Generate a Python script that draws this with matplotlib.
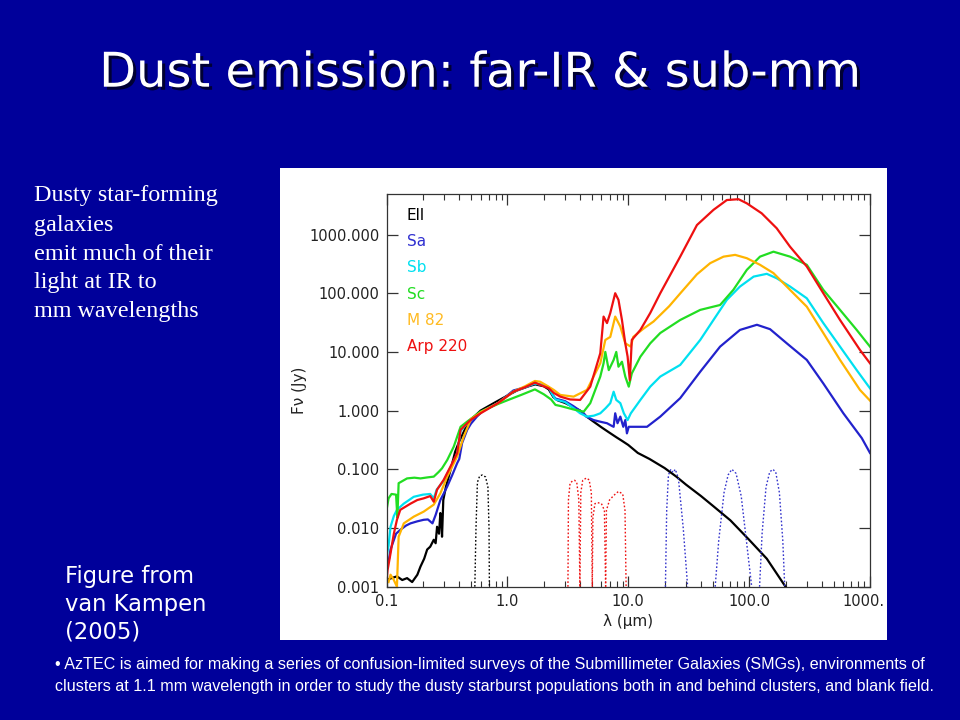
import matplotlib
matplotlib.use("Agg")
import matplotlib.pyplot as plt
import matplotlib.patheffects as pe
from matplotlib.patches import Rectangle
from matplotlib.transforms import ScaledTranslation
from matplotlib.ticker import FixedLocator, FixedFormatter, LogLocator, NullFormatter, NullLocator

# ---------------- data ----------------
ell_lam = [0.1, 0.11, 0.122, 0.135, 0.148, 0.163, 0.18, 0.191, 0.205, 0.217, 0.23, 0.246, 0.255,
           0.262, 0.272, 0.279, 0.285, 0.288, 0.295, 0.31, 0.34, 0.37, 0.40, 0.45, 0.5, 0.6, 0.8,
           1.0, 1.2, 1.5, 1.7, 2.0, 2.2, 2.4, 2.6, 3.0, 3.5, 4.0, 4.5, 5.0, 6.0, 7.0, 8.0, 9.0,
           10.0, 12.0, 15.0, 20.0, 25.0, 30.0, 40.0, 50.0, 70.0, 100.0, 140.0, 200.0]
ell_f = [0.0013, 0.0014, 0.0015, 0.0013, 0.0014, 0.0012, 0.0016, 0.0022, 0.003, 0.0043, 0.0048,
         0.0063, 0.0055, 0.0105, 0.008, 0.018, 0.012, 0.0071, 0.03, 0.05, 0.1, 0.2, 0.3, 0.5, 0.7,
         1.0, 1.4, 1.8, 2.2, 2.6, 2.8, 2.6, 2.3, 1.7, 1.5, 1.35, 1.15, 1.0, 0.8, 0.68, 0.52, 0.42,
         0.35, 0.3, 0.26, 0.19, 0.15, 0.105, 0.075, 0.055, 0.035, 0.024, 0.0135, 0.0063, 0.003, 0.001]

sa_lam = [0.1, 0.105, 0.108, 0.12, 0.13, 0.145, 0.158, 0.18, 0.203, 0.22, 0.24, 0.255, 0.279, 0.3,
          0.318, 0.35, 0.384, 0.4, 0.422, 0.44, 0.465, 0.5, 0.56, 0.62, 0.84, 1.12, 1.4, 1.69, 2.0,
          2.2, 2.35, 2.5, 3.0, 3.5, 4.28, 4.5, 5.17, 6.0, 6.67, 7.3, 7.57, 7.8, 8.15, 8.6, 9.1,
          9.45, 9.75, 10.1, 11.1, 14.3, 18.4, 26.9, 39.4, 57.5, 84.0, 116.0, 149.0, 205.0, 300.0,
          411.0, 602.0, 855.0, 1000.0]
sa_f = [0.0022, 0.003, 0.0043, 0.008, 0.0093, 0.011, 0.012, 0.013, 0.0138, 0.014, 0.012, 0.0167,
        0.03, 0.04, 0.051, 0.08, 0.127, 0.15, 0.28, 0.35, 0.47, 0.6, 0.79, 0.97, 1.35, 2.2, 2.5,
        2.9, 2.7, 2.5, 1.9, 1.6, 1.45, 1.2, 0.9, 0.79, 0.69, 0.64, 0.61, 0.55, 0.53, 0.9, 0.61,
        0.79, 0.53, 0.69, 0.41, 0.53, 0.53, 0.53, 0.79, 1.63, 4.6, 12.3, 23.7, 29.0, 24.4, 14.0,
        7.3, 2.9, 0.9, 0.34, 0.19]

sb_lam = [0.1, 0.104, 0.108, 0.115, 0.122, 0.139, 0.168, 0.2, 0.23, 0.246, 0.26, 0.3, 0.34, 0.384,
          0.41, 0.5, 0.62, 0.84, 1.12, 1.4, 1.69, 2.0, 2.2, 2.35, 2.5, 3.0, 3.53, 4.0, 4.55, 5.2,
          5.87, 6.5, 7.1, 7.57, 7.96, 8.6, 9.2, 9.88, 10.5, 12.6, 15.2, 18.4, 26.9, 39.4, 50.7,
          65.4, 84.0, 109.0, 140.0, 169.0, 218.0, 300.0, 411.0, 565.0, 776.0, 1000.0]
sb_f = [0.0032, 0.005, 0.0105, 0.016, 0.0204, 0.026, 0.034, 0.037, 0.038, 0.032, 0.045, 0.065,
        0.11, 0.18, 0.45, 0.72, 0.97, 1.35, 2.1, 2.5, 2.9, 2.7, 2.5, 1.9, 1.55, 1.4, 1.1, 0.9,
        0.79, 0.82, 0.9, 1.1, 1.34, 2.1, 1.52, 1.34, 0.9, 0.69, 0.9, 1.52, 2.56, 3.8, 6.0, 16.0,
        35.0, 77.0, 130.0, 192.0, 214.0, 180.0, 130.0, 82.0, 31.0, 12.3, 4.9, 2.4]

sc_lam = [0.1, 0.104, 0.11, 0.12, 0.123, 0.126, 0.148, 0.17, 0.191, 0.22, 0.246, 0.27, 0.288,
          0.318, 0.36, 0.41, 0.465, 0.6, 0.84, 1.0, 1.3, 1.69, 2.0, 2.3, 2.5, 2.74, 3.5, 4.28,
          4.85, 5.87, 6.25, 6.46, 6.9, 7.57, 7.96, 8.3, 8.87, 9.45, 10.1, 10.7, 12.6, 15.2, 18.4,
          26.9, 39.4, 57.5, 74.0, 95.7, 123.0, 159.0, 218.0, 300.0, 411.0, 565.0, 776.0, 1000.0]
sc_f = [0.02, 0.032, 0.038, 0.037, 0.015, 0.058, 0.07, 0.072, 0.07, 0.073, 0.075, 0.09, 0.104,
        0.144, 0.243, 0.53, 0.65, 0.96, 1.3, 1.5, 1.85, 2.3, 1.9, 1.55, 1.25, 1.2, 1.05, 0.96,
        1.34, 3.8, 6.4, 10.0, 4.9, 7.3, 10.0, 5.6, 6.8, 3.8, 2.56, 4.3, 8.3, 14.0, 21.0, 35.0,
        52.0, 63.0, 114.0, 250.0, 420.0, 510.0, 420.0, 305.0, 114.0, 52.0, 23.7, 12.3]

m82_lam = [0.104, 0.108, 0.115, 0.122, 0.126, 0.139, 0.168, 0.203, 0.246, 0.279, 0.318, 0.384,
           0.435, 0.5, 0.62, 0.84, 1.12, 1.4, 1.69, 1.87, 2.1, 2.42, 2.74, 3.53, 4.55, 5.87, 6.46,
           7.1, 7.8, 8.6, 9.45, 10.5, 11.0, 13.4, 16.2, 21.8, 27.0, 37.0, 47.6, 61.4, 76.6, 95.7,
           123.0, 159.0, 218.0, 300.0, 411.0, 565.0, 826.0, 1000.0]
m82_f = [0.0012, 0.0016, 0.0013, 0.001, 0.0071, 0.012, 0.0156, 0.019, 0.025, 0.039, 0.075, 0.165,
         0.36, 0.72, 0.97, 1.35, 2.1, 2.6, 3.2, 3.1, 2.7, 2.25, 1.85, 1.73, 2.25, 6.4, 16.0, 18.0,
         40.0, 27.0, 14.0, 12.3, 18.0, 25.0, 33.0, 60.0, 100.0, 210.0, 325.0, 420.0, 450.0, 395.0,
         305.0, 220.0, 114.0, 59.0, 21.0, 7.3, 2.25, 1.48]

arp_lam = [0.1, 0.102, 0.108, 0.115, 0.122, 0.13, 0.158, 0.18, 0.203, 0.23, 0.246, 0.262, 0.297,
           0.338, 0.384, 0.41, 0.495, 0.6, 0.84, 1.12, 1.4, 1.69, 1.87, 2.2, 2.42, 2.74, 3.3, 4.0,
           4.85, 5.87, 6.25, 6.67, 7.1, 7.8, 8.3, 8.87, 9.45, 9.88, 10.3, 10.7, 12.6, 15.2, 18.4,
           26.9, 37.0, 50.7, 65.4, 81.7, 95.7, 127.0, 169.0, 218.0, 300.0, 411.0, 565.0, 826.0,
           1000.0]
arp_f = [0.0012, 0.0019, 0.0037, 0.008, 0.0138, 0.0204, 0.026, 0.03, 0.032, 0.035, 0.028, 0.045,
         0.066, 0.111, 0.188, 0.47, 0.69, 0.9, 1.35, 2.1, 2.5, 3.0, 2.75, 2.4, 2.0, 1.73, 1.55,
         1.52, 2.56, 9.5, 40.0, 31.0, 46.0, 100.0, 77.0, 35.0, 14.0, 8.3, 3.3, 16.0, 23.7, 46.0,
         100.0, 420.0, 1450.0, 2630.0, 3870.0, 4000.0, 3400.0, 2300.0, 1280.0, 620.0, 285.0,
         100.0, 35.0, 10.8, 6.4]

# filter transmission curves (dotted)
filt_r_lam = [0.538, 0.55, 0.565, 0.59, 0.62, 0.66, 0.69, 0.705, 0.71]
filt_r_f = [0.001, 0.01, 0.06, 0.077, 0.08, 0.074, 0.05, 0.01, 0.001]
irac1_lam = [3.17, 3.2, 3.3, 3.45, 3.6, 3.75, 3.9, 3.98]
irac1_f = [0.001, 0.03, 0.058, 0.063, 0.065, 0.06, 0.03, 0.001]
irac2_lam = [3.98, 4.05, 4.2, 4.5, 4.75, 4.95, 5.04]
irac2_f = [0.001, 0.04, 0.065, 0.071, 0.066, 0.04, 0.001]
irac3_lam = [5.04, 5.1, 5.3, 5.6, 6.0, 6.35, 6.5]
irac3_f = [0.001, 0.015, 0.026, 0.027, 0.026, 0.02, 0.001]
irac4_lam = [6.5, 6.6, 7.0, 7.6, 8.3, 9.0, 9.4, 9.6]
irac4_f = [0.001, 0.02, 0.03, 0.036, 0.042, 0.038, 0.02, 0.001]
mips24_lam = [20.3, 20.8, 21.5, 22.5, 23.5, 24.5, 26.0, 28.5, 31.0]
mips24_f = [0.001, 0.02, 0.08, 0.1, 0.088, 0.1, 0.07, 0.01, 0.001]
mips70_lam = [52.4, 56.0, 62.0, 67.0, 72.0, 78.0, 86.0, 95.0, 105.0]
mips70_f = [0.001, 0.006, 0.04, 0.08, 0.1, 0.085, 0.035, 0.006, 0.001]
mips160_lam = [122.0, 128.0, 138.0, 148.0, 157.0, 166.0, 178.0, 190.0, 197.0]
mips160_f = [0.001, 0.008, 0.05, 0.09, 0.1, 0.09, 0.04, 0.006, 0.001]

legend_labels = ["Ell", "Sa", "Sb", "Sc", "M 82", "Arp 220"]
x_ticks = [0.1, 1.0, 10.0, 100.0, 1000.0]
x_tick_labels = ["0.1", "1.0", "10.0", "100.0", "1000."]
y_ticks = [0.001, 0.01, 0.1, 1.0, 10.0, 100.0, 1000.0]
y_tick_labels = ["0.001", "0.010", "0.100", "1.000", "10.000", "100.000", "1000.000"]

title = "Dust emission: far-IR & sub-mm"
side_lines = ["Dusty star-forming", "galaxies", "emit much of their", "light at IR to", "mm wavelengths"]
credit_lines = ["Figure from", "van Kampen", "(2005)"]
bullet_lines = ["\u2022 AzTEC is aimed for making a series of confusion-limited surveys of the Submillimeter Galaxies (SMGs), environments of",
                "clusters at 1.1 mm wavelength in order to study the dusty starburst populations both in and behind clusters, and blank field."]

# ---------------- styling ----------------
W, H = 960, 720
BG = "#00009a"
C_ELL, C_SA, C_SB, C_SC, C_M82, C_ARP = "#000000", "#2222cc", "#00e0f0", "#22dd22", "#ffb400", "#ee1010"

fig = plt.figure(figsize=(W / 100, H / 100), dpi=100, facecolor=BG)

def fx(px):
    return px / W

def fy(py):
    return 1 - py / H

# white panel
fig.patches.append(Rectangle((fx(280), fy(639.5)), (887 - 280) / W, (639.5 - 168) / H,
                             transform=fig.transFigure, facecolor="white", edgecolor="none", zorder=-1))

ax = fig.add_axes([fx(386.5), fy(586.7), (870 - 386.5) / W, (586.7 - 193.5) / H])
ax.set_facecolor("white")
ax.set_xscale("log")
ax.set_yscale("log")
ax.set_xlim(0.1, 1000.0)
ax.set_ylim(0.001, 5000.0)

lw = 1.6
series = [(ell_lam, ell_f, C_ELL), (sa_lam, sa_f, C_SA), (sb_lam, sb_f, C_SB),
          (sc_lam, sc_f, C_SC), (m82_lam, m82_f, C_M82), (arp_lam, arp_f, C_ARP)]
for lam, f, c in series:
    ax.plot(lam, f, color=c, lw=lw, solid_joinstyle="round")

filters = [(filt_r_lam, filt_r_f, "#000000"),
           (irac1_lam, irac1_f, C_ARP), (irac2_lam, irac2_f, C_ARP),
           (irac3_lam, irac3_f, C_ARP), (irac4_lam, irac4_f, C_ARP),
           (mips24_lam, mips24_f, "#3333cc"), (mips70_lam, mips70_f, "#3333cc"),
           (mips160_lam, mips160_f, "#3333cc")]
for lam, f, c in filters:
    ax.plot(lam, f, color=c, lw=1.0, ls=(0, (1.2, 1.5)))

# legend as coloured text
leg_colors = [C_ELL, "#3030d0", C_SB, C_SC, "#ffbb22", C_ARP]
y0 = (586.7 - 215.0) / (586.7 - 193.5)
dy = 26.4 / (586.7 - 193.5)
for i, (lab, c) in enumerate(zip(legend_labels, leg_colors)):
    ax.text(0.042, y0 - i * dy, lab, transform=ax.transAxes, color=c, fontsize=11,
            va="center", ha="left", family="DejaVu Sans")

# ticks
for s in ax.spines.values():
    s.set_color("#333333")
    s.set_linewidth(0.9)
ax.xaxis.set_major_locator(FixedLocator(x_ticks))
ax.xaxis.set_major_formatter(FixedFormatter(x_tick_labels))
ax.xaxis.set_minor_locator(LogLocator(base=10, subs=[2, 3, 4, 5, 6, 7, 8, 9], numticks=20))
ax.xaxis.set_minor_formatter(NullFormatter())
ax.yaxis.set_major_locator(FixedLocator(y_ticks))
ax.yaxis.set_major_formatter(FixedFormatter(y_tick_labels))
ax.yaxis.set_minor_locator(NullLocator())
ax.tick_params(which="both", direction="in", top=True, right=True, color="#333333",
               labelsize=10.5, labelcolor="#222222", pad=5)
ax.tick_params(which="major", length=8, width=0.9)
ax.tick_params(which="minor", length=4, width=0.8)
ax.set_xlabel("\u03bb (\u03bcm)", fontsize=11, color="#222222", labelpad=4)
ax.set_ylabel("F\u03bd (Jy)", fontsize=11, color="#222222", labelpad=2)

# nudge the last x tick label left so it stays on the white panel
last_lbl = ax.xaxis.get_major_ticks()[-1].label1
last_lbl.set_transform(last_lbl.get_transform() + ScaledTranslation(-7 / 100, 0, fig.dpi_scale_trans))

# slide texts
fig.text(fx(480), fy(86.7), title, ha="center", va="baseline", fontsize=34.5, color="white",
         family="DejaVu Sans",
         path_effects=[pe.withSimplePatchShadow(offset=(2.2, -2.2), shadow_rgbFace="#000033", alpha=1.0)])

for i, line in enumerate(side_lines):
    fig.text(fx(34), fy(196 + 29 * i), line, ha="left", va="center", fontsize=17.4,
             color="white", family="Liberation Serif")

for i, line in enumerate(credit_lines):
    fig.text(fx(65), fy(577 + 27.5 * i), line, ha="left", va="center", fontsize=16.3,
             color="white", family="DejaVu Sans")

for i, line in enumerate(bullet_lines):
    fig.text(fx(55), fy(665 + 21 * i), line, ha="left", va="center", fontsize=11.65,
             color="white", family="Liberation Sans")

fig.savefig("out.png", dpi=100, facecolor=BG)
